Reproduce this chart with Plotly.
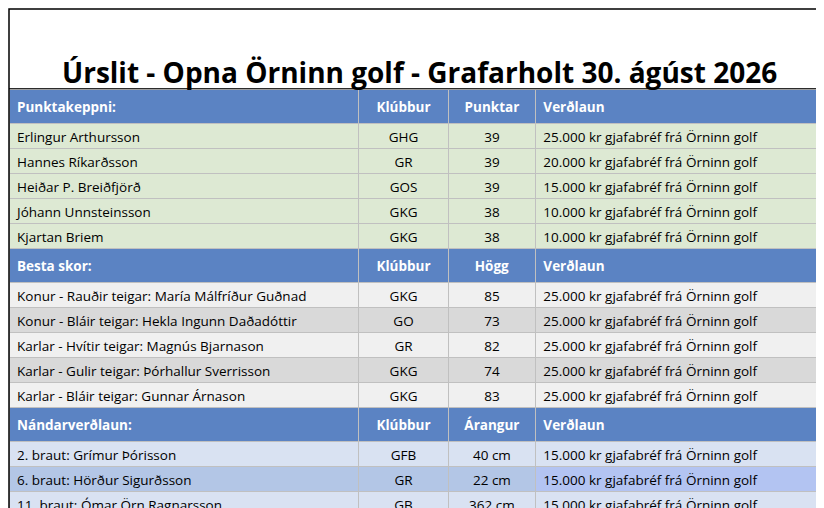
import plotly.graph_objects as go

title = "Úrslit - Opna Örninn golf - Grafarholt 30. ágúst 2026"

sec1_head = ["Punktakeppni:", "Klúbbur", "Punktar", "Verðlaun"]
sec1_names = ["Erlingur Arthursson", "Hannes Ríkarðsson", "Heiðar P. Breiðfjörð",
              "Jóhann Unnsteinsson", "Kjartan Briem"]
sec1_clubs = ["GHG", "GR", "GOS", "GKG", "GKG"]
sec1_points = [39, 39, 39, 38, 38]
sec1_prize = ["25.000", "20.000", "15.000", "10.000", "10.000"]

sec2_head = ["Besta skor:", "Klúbbur", "Högg", "Verðlaun"]
sec2_names = ["Konur - Rauðir teigar: María Málfríður Guðnad",
              "Konur - Bláir teigar: Hekla Ingunn Daðadóttir",
              "Karlar - Hvítir teigar: Magnús Bjarnason",
              "Karlar - Gulir teigar: Þórhallur Sverrisson",
              "Karlar - Bláir teigar: Gunnar Árnason"]
sec2_clubs = ["GKG", "GO", "GR", "GKG", "GKG"]
sec2_strokes = [85, 73, 82, 74, 83]
sec2_prize = ["25.000"] * 5

sec3_head = ["Nándarverðlaun:", "Klúbbur", "Árangur", "Verðlaun"]
sec3_names = ["2. braut: Grímur Þórisson", "6. braut: Hörður Sigurðsson",
              "11. braut: Ómar Örn Ragnarsson", "17. braut: Ingvar Kristinsson"]
sec3_clubs = ["GFB", "GR", "GB", "GK"]
sec3_dist = [40, 22, 362, 273]
sec3_prize = ["15.000"] * 4

HEAD = "#5b83c3"
rows, fills, colors = [], [], []


def add_head(h):
    rows.append([f"<b>{v}</b>" for v in h])
    fills.append([HEAD] * 4)
    colors.append(["white"] * 4)


def add_row(vals, fill):
    rows.append(vals)
    fills.append(fill if isinstance(fill, list) else [fill] * 4)
    colors.append(["black"] * 4)


for n, c, p, pr in zip(sec1_names, sec1_clubs, sec1_points, sec1_prize):
    add_row([n, c, str(p), f"{pr} kr gjafabréf frá Örninn golf"], "#dde9d3")
add_head(sec2_head)
for i, (n, c, s, pr) in enumerate(zip(sec2_names, sec2_clubs, sec2_strokes, sec2_prize)):
    add_row([n, c, str(s), f"{pr} kr gjafabréf frá Örninn golf"], "#f0f0f0" if i % 2 == 0 else "#d9d9d9")
add_head(sec3_head)
for i, (n, c, d, pr) in enumerate(zip(sec3_names, sec3_clubs, sec3_dist, sec3_prize)):
    f = "#d9e2f2" if i % 2 == 0 else "#b3c6e6"
    fl = [f, f, f, "#b3c4f2"] if i == 1 else f
    add_row([n, c, f"{d} cm", f"{pr} kr gjafabréf frá Örninn golf"], fl)

cols = [list(col) for col in zip(*rows)]
fill_cols = [list(col) for col in zip(*fills)]
color_cols = [list(col) for col in zip(*colors)]

font = "Open Sans"
fig = go.Figure(go.Table(
    columnwidth=[350, 90, 87, 295],
    domain=dict(x=[0, 1], y=[0, 1 - 81 / 508]),
    header=dict(values=[f"<b>{v}</b>" for v in sec1_head], fill_color=HEAD,
                font=dict(color="white", size=13.5, family=font),
                align=["left", "center", "center", "left"], height=25,
                line=dict(color="#c0c0c0", width=1)),
    cells=dict(values=cols, fill_color=fill_cols,
               font=dict(color=color_cols, size=13.5, family=font),
               align=["left", "center", "center", "left"], height=25,
               line=dict(color="#c0c0c0", width=1)),
))
fig.add_annotation(text=f"<b>{title}</b>", x=0.5, y=1 - 42 / 508, xref="paper", yref="paper",
                   showarrow=False, font=dict(size=28, family=font, color="black"))
fig.add_shape(type="rect", x0=0, x1=1, y0=0, y1=1, xref="paper", yref="paper",
              line=dict(color="black", width=1.5))
fig.add_shape(type="line", x0=0, x1=1, y0=1 - 80 / 508, y1=1 - 80 / 508, xref="paper", yref="paper",
              line=dict(color="black", width=1))
fig.update_layout(width=824, height=508, margin=dict(l=1, r=2, t=1, b=1),
                  paper_bgcolor="white")
fig.write_html("out.html")
